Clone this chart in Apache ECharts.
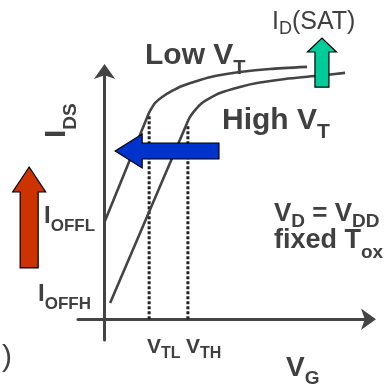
<!DOCTYPE html>
<html><head><meta charset="utf-8">
<script src="https://cdn.jsdelivr.net/npm/echarts@6/dist/echarts.min.js"></script>
<style>html,body{margin:0;padding:0;background:#fff}#c{width:386px;height:389px}</style>
</head><body><div id="c"></div>
<script>
// ---- data (V_G in arbitrary units, I_DS in arbitrary log-units) ----
const lowVG  = [0, 1.64, 1.71, 1.90, 2.17, 2.54, 2.92, 3.60, 4.16, 5.10, 6.23, 7.63];
const lowIDS = [4.68, 9.83, 10.02, 10.41, 10.70, 10.99, 11.23, 11.52, 11.71, 11.90, 12.05, 12.15];
const highVG  = [0.21, 3.11, 3.22, 3.41, 3.67, 3.90, 4.35, 5.10, 5.74, 6.80, 8.00, 9.06];
const highIDS = [0.78, 9.45, 9.74, 10.07, 10.41, 10.60, 10.89, 11.18, 11.37, 11.57, 11.72, 11.86];
const vtVG  = [1.68, 3.14];          // V_TL, V_TH
const vtIDS = [9.83, 9.35];          // top of dotted guide lines
// annotation arrows: tail (x,y) -> tip (x,y)
const arrowNames = ['IOFF', 'VT', 'IDSAT'];
const arrowTail = [[-2.84, 2.47], [4.31, 8.10], [8.19, 11.18]];
const arrowTip  = [[-2.84, 7.33], [0.40, 8.10], [8.19, 13.54]];

const TXT = '#404040';
const FF = '"Liberation Sans", Arial, sans-serif';
const arrowStyle = [
  {fill: '#cc3300', shaft: 18, head: 33, headLen: 25},
  {fill: '#0033cc', shaft: 16, head: 34, headLen: 27},
  {fill: '#00cc99', shaft: 14, head: 29, headLen: 14}
];

const mctx = document.createElement('canvas').getContext('2d');
function fnt(size, bold){ return (bold ? 'bold ' : '') + size + 'px ' + FF; }
function tw(t, size, bold){ mctx.font = fnt(size, bold); return mctx.measureText(t).width; }
// parts: [text, size, bold, baselineY]
function label(x, parts){
  const els = [];
  let cx = x;
  parts.forEach(p => {
    els.push({type: 'text', x: cx, y: p[3] - 0.35 * p[1], z: 100,
      style: {text: p[0], font: fnt(p[1], p[2]), fill: TXT,
        align: 'left', verticalAlign: 'middle', textAlign: 'left', textVerticalAlign: 'middle'}});
    cx += tw(p[0], p[1], p[2]);
  });
  return els;
}
// rotated y-axis label
function rlabel(startY, parts){
  const els = [];
  let cy = startY;
  parts.forEach(p => {
    els.push({type: 'text', x: p[3] - 0.35 * p[1], y: cy, rotation: Math.PI / 2, z: 100,
      style: {text: p[0], font: fnt(p[1], p[2]), fill: TXT,
        align: 'left', verticalAlign: 'middle', textAlign: 'left', textVerticalAlign: 'middle'}});
    cy -= tw(p[0], p[1], p[2]);
  });
  return els;
}

const graphics = [].concat(
  label(272, [['I', 25, false, 31], ['D', 18, false, 35], ['(SAT)', 25, false, 31]]),
  label(145, [['Low V', 30, true, 66], ['T', 20, true, 75]]),
  label(222, [['High V', 30, true, 131], ['T', 21, true, 140]]),
  label(274, [['V', 26, true, 223], ['D', 19, true, 228], [' = V', 26, true, 223], ['DD', 19, true, 228]]),
  label(274, [['fixed T', 27, true, 250], ['ox', 19, true, 259]]),
  label(44, [['I', 24, true, 225], ['OFFL', 17, true, 232]]),
  label(38, [['I', 24, true, 303], ['OFFH', 17, true, 310]]),
  label(147, [['V', 21, true, 355], ['TL', 16, true, 359]]),
  label(186, [['V', 21, true, 355], ['TH', 16, true, 359]]),
  label(286, [['V', 28, true, 378], ['G', 19, true, 385]]),
  label(2, [[')', 30, false, 368]]),
  rlabel(138, [['I', 30, true, 67], ['DS', 19, true, 77]])
);

const chart = echarts.init(document.getElementById('c'), null, {renderer: 'canvas'});
const axisLine = {show: true, onZero: true, symbol: ['none', 'arrow'], symbolSize: [16, 15],
  symbolOffset: [0, 6], lineStyle: {color: '#444', width: 3}};
chart.setOption({
  animation: false,
  grid: {left: 78, right: 16, top: 70, bottom: 49},
  xAxis: {type: 'value', min: -1, max: 10, axisLine: axisLine,
    axisTick: {show: false}, axisLabel: {show: false}, splitLine: {show: false}},
  yAxis: {type: 'value', min: -1, max: 12, axisLine: axisLine,
    axisTick: {show: false}, axisLabel: {show: false}, splitLine: {show: false}},
  graphic: graphics,
  series: [
    {type: 'line', name: 'Low VT', data: lowVG.map((v, i) => [v, lowIDS[i]]), showSymbol: false,
      smooth: 0.2, clip: false, lineStyle: {color: '#444', width: 2.6}, z: 3},
    {type: 'line', name: 'High VT', data: highVG.map((v, i) => [v, highIDS[i]]), showSymbol: false,
      smooth: 0.2, clip: false, lineStyle: {color: '#444', width: 2.6}, z: 3},
    {type: 'line', name: 'VTL', data: [[vtVG[0], 0], [vtVG[0], vtIDS[0]]], showSymbol: false,
      clip: false, lineStyle: {color: '#222', width: 3, type: [3, 2]}, z: 2},
    {type: 'line', name: 'VTH', data: [[vtVG[1], 0], [vtVG[1], vtIDS[1]]], showSymbol: false,
      clip: false, lineStyle: {color: '#222', width: 3, type: [3, 2]}, z: 2},
    {type: 'custom', name: 'arrows', clip: false, z: 10,
      data: arrowNames.map((n, i) => [arrowTail[i][0], arrowTail[i][1], arrowTip[i][0], arrowTip[i][1]]),
      renderItem: function(params, api){
        const s = arrowStyle[params.dataIndex];
        const a = api.coord([api.value(0), api.value(1)]);
        const b = api.coord([api.value(2), api.value(3)]);
        const dx = b[0] - a[0], dy = b[1] - a[1];
        const L = Math.sqrt(dx * dx + dy * dy);
        const ux = dx / L, uy = dy / L, px = -uy, py = ux;
        const hb = [b[0] - ux * s.headLen, b[1] - uy * s.headLen];
        const hs = s.shaft / 2, hh = s.head / 2;
        const pts = [
          [a[0] + px * hs, a[1] + py * hs],
          [hb[0] + px * hs, hb[1] + py * hs],
          [hb[0] + px * hh, hb[1] + py * hh],
          [b[0], b[1]],
          [hb[0] - px * hh, hb[1] - py * hh],
          [hb[0] - px * hs, hb[1] - py * hs],
          [a[0] - px * hs, a[1] - py * hs]
        ];
        return {type: 'polygon', shape: {points: pts},
          style: {fill: s.fill, stroke: '#000', lineWidth: 1.2}};
      }}
  ]
});
</script></body></html>
